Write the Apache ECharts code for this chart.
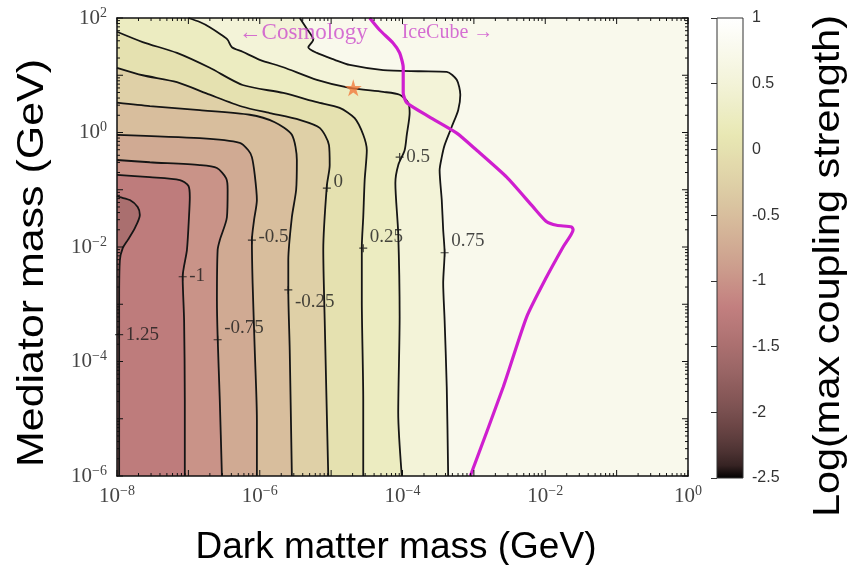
<!DOCTYPE html>
<html><head><meta charset="utf-8">
<script src="https://cdn.jsdelivr.net/npm/echarts@6/dist/echarts.min.js"></script>
<style>html,body{margin:0;padding:0;background:#fff}#c{width:850px;height:565px}</style>
</head><body><div id="c"></div>
<script>
// All positions in log10(GeV): [log10 DM mass, log10 mediator mass]
const xTickExps = [-8, -6, -4, -2, 0];
const yTickExps = [-6, -4, -2, 0, 2];
const cbarTicks = [-2.5, -2, -1.5, -1, -0.5, 0, 0.5, 1];
const contourLevels = [-1.25, -1, -0.75, -0.5, -0.25, 0, 0.25, 0.5, 0.75];

const cM125 = [[-7.97,-6],[-7.97,-4.67],[-7.97,-2.93],[-7.96,-2.23],[-7.92,-2.02],[-7.85,-1.88],[-7.75,-1.67],[-7.68,-1.44],[-7.71,-1.30],[-7.82,-1.18],[-7.96,-1.13],[-8,-1.11]];
const cM100 = [[-7.05,-6],[-7.05,-4.67],[-7.06,-3.28],[-7.08,-2.52],[-7.02,-2.05],[-6.99,-1.44],[-6.98,-1.13],[-7.0,-0.93],[-7.12,-0.83],[-7.54,-0.78],[-8,-0.74]];
const cM075 = [[-6.53,-6],[-6.56,-4.67],[-6.59,-3.57],[-6.6,-2.93],[-6.59,-2.05],[-6.56,-1.88],[-6.46,-1.48],[-6.45,-1.0],[-6.47,-0.8],[-6.6,-0.62],[-6.84,-0.57],[-7.54,-0.52],[-8,-0.48]];
const cM050 = [[-6.04,-6],[-6.04,-5.02],[-6.07,-3.8],[-6.1,-2.63],[-6.11,-1.88],[-6.08,-1.53],[-6.04,-1.18],[-6.07,-0.74],[-6.11,-0.43],[-6.16,-0.31],[-6.28,-0.18],[-6.84,-0.1],[-8,-0.04]];
const cM025 = [[-5.55,-6],[-5.58,-3.8],[-5.6,-2.75],[-5.6,-2.23],[-5.55,-1.48],[-5.49,-1.0],[-5.48,-0.48],[-5.55,-0.04],[-5.79,0.18],[-6.14,0.31],[-6.84,0.39],[-7.54,0.46],[-8,0.52]];
const c000 = [[-5.04,-6],[-5.09,-3.28],[-5.11,-2.05],[-5.06,-0.93],[-5.02,-0.57],[-5.03,-0.22],[-5.16,0.08],[-5.44,0.22],[-5.86,0.34],[-6.24,0.45],[-6.7,0.66],[-7.16,0.88],[-7.64,1.0],[-8,1.13]];
const c025 = [[-4.55,-6],[-4.55,-4.67],[-4.57,-2.93],[-4.57,-2.0],[-4.55,-1.48],[-4.53,-0.83],[-4.5,-0.31],[-4.55,-0.04],[-4.67,0.25],[-4.88,0.43],[-5.2,0.53],[-5.67,0.69],[-6.24,0.83],[-6.7,1.13],[-7.16,1.39],[-7.64,1.58],[-8,1.76]];
const c050 = [[-4.01,-6],[-4.06,-4.9],[-4.04,-3.22],[-4.06,-1.76],[-4.1,-0.88],[-4.06,-0.57],[-3.97,-0.31],[-3.94,-0.04],[-3.9,0.34],[-3.92,0.52],[-4.04,0.66],[-4.27,0.71],[-4.74,0.78],[-5.2,0.92],[-5.67,1.14],[-6.0,1.27],[-6.24,1.41],[-6.39,1.49],[-6.45,1.62],[-6.53,1.7],[-6.7,1.84],[-6.84,1.93],[-7.0,2]];
const c075 = [[-3.36,-6],[-3.38,-4.45],[-3.41,-3.28],[-3.43,-2.63],[-3.41,-2.1],[-3.43,-1.7],[-3.45,-1.18],[-3.48,-0.66],[-3.45,-0.43],[-3.41,-0.22],[-3.31,0.1],[-3.22,0.39],[-3.19,0.66],[-3.24,0.92],[-3.38,1.06],[-3.76,1.07],[-4.27,1.09],[-4.74,1.18],[-4.95,1.27],[-5.2,1.39],[-5.32,1.49],[-5.25,1.62],[-5.35,1.83],[-5.44,2]];
const contours = [cM125, cM100, cM075, cM050, cM025, c000, c025, c050, c075];

const iceCube = [[-4.46,2],[-4.32,1.79],[-4.13,1.56],[-4.04,1.39],[-3.99,1.14],[-3.99,0.69],[-3.94,0.52],[-3.62,0.27],[-3.24,-0.01],[-2.96,-0.31],[-2.54,-0.78],[-2.17,-1.3],[-1.98,-1.56],[-1.84,-1.62],[-1.63,-1.65],[-1.61,-1.7],[-1.75,-2.0],[-1.98,-2.52],[-2.26,-3.22],[-2.59,-4.45],[-3.05,-6]];
const starPoint = [-4.69, 0.78];

const contourLabelText = ['1.25', '-1', '-0.75', '-0.5', '-0.25', '0', '0.25', '0.5', '0.75'];
const contourLabelAt = [[-7.97,-3.53],[-7.08,-2.52],[-6.59,-3.62],[-6.11,-1.88],[-5.6,-2.75],[-5.06,-0.97],[-4.55,-2.02],[-4.04,-0.43],[-3.41,-2.1]];
const regionTextAt = [-4.25, 1.74];

// ---- styling (kept separate from data) ----
const labelDy = [0, -1, -12, -3, 12, -6, -11, 0, -12];
const SERIF = '"Liberation Serif", "DejaVu Serif", serif';
const SANS = '"Liberation Sans", Arial, sans-serif';

function pink(v) {
  const t = Math.max(0, Math.min(1, (v + 2.5) / 3.5));
  const cl = a => Math.max(0, Math.min(1, a));
  const hr = cl(t / 0.375), hg = cl((t - 0.375) / 0.375), hb = cl((t - 0.75) / 0.25);
  const f = h => Math.round(255 * Math.sqrt((2 * t + h) / 3));
  return 'rgb(' + f(hr) + ',' + f(hg) + ',' + f(hb) + ')';
}

function powLabel(v) {
  const e = String(Math.round(v)).replace('-', '\u2212');
  return '{b|10}{s|' + e + '}';
}
const powRich = {
  b: {fontFamily: SERIF, fontSize: 21, color: '#444', lineHeight: 24},
  s: {fontFamily: SERIF, fontSize: 14, color: '#444', verticalAlign: 'top', lineHeight: 14}
};

// minor log ticks (axis decoration)
const tickData = [];
for (let d = -8; d < 0; d++) for (let k = 1; k <= 9; k++) tickData.push([d + Math.log10(k), 0, k === 1 ? 6 : 3]);
tickData.push([0, 0, 6]);
for (let d = -6; d < 2; d++) for (let k = 1; k <= 9; k++) tickData.push([d + Math.log10(k), 1, k === 1 ? 6 : 3]);
tickData.push([2, 1, 6]);

const chart = echarts.init(document.getElementById('c'), null, {renderer: 'canvas'});

const fillOrder = contourLevels.map((l, i) => i).reverse();

const series = [];
// filled bands
series.push({
  type: 'custom', xAxisIndex: 0, yAxisIndex: 0, z: 1, silent: true,
  data: fillOrder.map(i => [i, 0]),
  renderItem: function (params, api) {
    const idx = api.value(0);
    const pts = contours[idx].slice();
    if (pts[pts.length - 1][1] >= 2) pts.push([-8, 2]);
    pts.push([-8, -6]);
    return {
      type: 'polygon',
      shape: {points: pts.map(p => api.coord(p))},
      style: {fill: pink(contourLevels[idx] - 0.25), stroke: null}
    };
  }
});
// contour lines
contours.forEach((c, i) => {
  series.push({
    type: 'line', xAxisIndex: 0, yAxisIndex: 0, data: c, showSymbol: false, symbol: 'none',
    smooth: 0.25, z: 3, silent: true,
    lineStyle: {color: '#151515', width: 1.8}
  });
});
// IceCube boundary
series.push({
  type: 'line', xAxisIndex: 0, yAxisIndex: 0, data: iceCube, showSymbol: false, symbol: 'none',
  smooth: 0.2, z: 4, silent: true,
  lineStyle: {color: '#cf1fcf', width: 3.2}
});
// contour labels
series.push({
  type: 'scatter', xAxisIndex: 0, yAxisIndex: 0, z: 5, silent: true,
  symbol: 'path://M0,5L10,5M5,0L5,10', symbolSize: 8,
  itemStyle: {color: 'rgba(0,0,0,0)', borderColor: '#151515', borderWidth: 1.2},
  data: contourLabelAt.map((p, i) => ({
    value: [p[0], p[1]], name: contourLabelText[i],
    label: {offset: [0, labelDy[i]]}
  })),
  label: {show: true, position: 'right', distance: 2, formatter: p => p.name,
    fontFamily: SERIF, fontSize: 19, color: '#1a1a1a'}
});
// star
series.push({
  type: 'scatter', xAxisIndex: 0, yAxisIndex: 0, z: 6, silent: true,
  symbol: 'path://M50,0L61,35L98,35L68,57L79,91L50,70L21,91L32,57L2,35L39,35Z', symbolSize: 17,
  itemStyle: {color: '#f27b3c'},
  data: [starPoint]
});
// region annotations
series.push({
  type: 'scatter', xAxisIndex: 0, yAxisIndex: 0, z: 6, silent: true, symbolSize: 0,
  data: [
    {value: regionTextAt, name: '\u2190Cosmology', label: {position: 'left', distance: 17, fontSize: 23}},
    {value: regionTextAt, name: 'IceCube \u2192', label: {position: 'right', distance: 17}}
  ],
  label: {show: true, formatter: p => p.name, fontFamily: SERIF, fontSize: 20, color: '#cc4ccc'}
});
// axis ticks
series.push({
  type: 'custom', xAxisIndex: 0, yAxisIndex: 0, z: 12, silent: true, clip: false,
  data: tickData,
  renderItem: function (params, api) {
    const v = api.value(0), ax = api.value(1), len = api.value(2);
    const st = {stroke: '#111', lineWidth: 1};
    if (ax === 0) {
      const a = api.coord([v, -6]), b = api.coord([v, 2]);
      return {type: 'group', children: [
        {type: 'line', shape: {x1: a[0], y1: a[1], x2: a[0], y2: a[1] - len}, style: st},
        {type: 'line', shape: {x1: b[0], y1: b[1], x2: b[0], y2: b[1] + len}, style: st}
      ]};
    }
    const a = api.coord([-8, v]), b = api.coord([0, v]);
    return {type: 'group', children: [
      {type: 'line', shape: {x1: a[0], y1: a[1], x2: a[0] + len, y2: a[1]}, style: st},
      {type: 'line', shape: {x1: b[0], y1: b[1], x2: b[0] - len, y2: b[1]}, style: st}
    ]};
  }
});
// colorbar
const cbStops = [];
for (let i = 0; i <= 35; i++) cbStops.push({offset: i / 35, color: pink(1 - i * 0.1)});
series.push({
  type: 'custom', xAxisIndex: 2, yAxisIndex: 2, z: 2, silent: true,
  data: [[0, 0]],
  renderItem: function (params, api) {
    const a = api.coord([0, 1]), b = api.coord([1, -2.5]);
    return {type: 'rect', shape: {x: a[0], y: a[1], width: b[0] - a[0], height: b[1] - a[1]},
      style: {fill: {type: 'linear', x: 0, y: 0, x2: 0, y2: 1, colorStops: cbStops}, stroke: '#333', lineWidth: 1}};
  }
});

const axisLineStyle = {show: true, onZero: false, lineStyle: {color: '#111', width: 1.5}};

chart.setOption({
  animation: false,
  backgroundColor: '#fff',
  grid: [
    {left: 117, top: 18, width: 571, height: 458, show: true, backgroundColor: pink(0.75), borderWidth: 0},
    {left: 717, top: 18, width: 26, height: 460}
  ],
  xAxis: [
    {gridIndex: 0, type: 'value', min: -8, max: 0, interval: 2, position: 'bottom', z: 10,
      axisLine: axisLineStyle, axisTick: {show: false}, splitLine: {show: false},
      axisLabel: {formatter: powLabel, rich: powRich, margin: 8}},
    {gridIndex: 0, type: 'value', min: -8, max: 0, interval: 2, position: 'top', z: 10,
      axisLine: axisLineStyle, axisTick: {show: false}, splitLine: {show: false}, axisLabel: {show: false}},
    {gridIndex: 1, type: 'value', min: 0, max: 1, show: false}
  ],
  yAxis: [
    {gridIndex: 0, type: 'value', min: -6, max: 2, interval: 2, position: 'left', z: 10,
      axisLine: axisLineStyle, axisTick: {show: false}, splitLine: {show: false},
      axisLabel: {formatter: powLabel, rich: powRich, margin: 10}},
    {gridIndex: 0, type: 'value', min: -6, max: 2, interval: 2, position: 'right', z: 10,
      axisLine: axisLineStyle, axisTick: {show: false}, splitLine: {show: false}, axisLabel: {show: false}},
    {gridIndex: 1, type: 'value', min: -2.5, max: 1, interval: 0.5, position: 'right', z: 10,
      axisLine: {show: false}, splitLine: {show: false},
      axisTick: {show: true, inside: true, length: 6, lineStyle: {color: '#333', width: 1}},
      axisLabel: {fontFamily: SANS, fontSize: 16, color: '#333', margin: 9}}
  ],
  graphic: [
    {type: 'text', x: 396, y: 548, silent: true,
      style: {text: 'Dark matter mass (GeV)', font: '37px "Liberation Sans", Arial, sans-serif', fill: '#000', align: 'center', verticalAlign: 'middle'}},
    {type: 'text', x: 33, y: 263, rotation: Math.PI / 2, scaleX: 1.16, silent: true,
      style: {text: 'Mediator mass (GeV)', font: '37px "Liberation Sans", Arial, sans-serif', fill: '#000', align: 'center', verticalAlign: 'middle'}},
    {type: 'text', x: 829, y: 266, rotation: Math.PI / 2, scaleX: 1.12, silent: true,
      style: {text: 'Log(max coupling strength)', font: '37px "Liberation Sans", Arial, sans-serif', fill: '#000', align: 'center', verticalAlign: 'middle'}}
  ],
  series: series
});
</script>
</body></html>
